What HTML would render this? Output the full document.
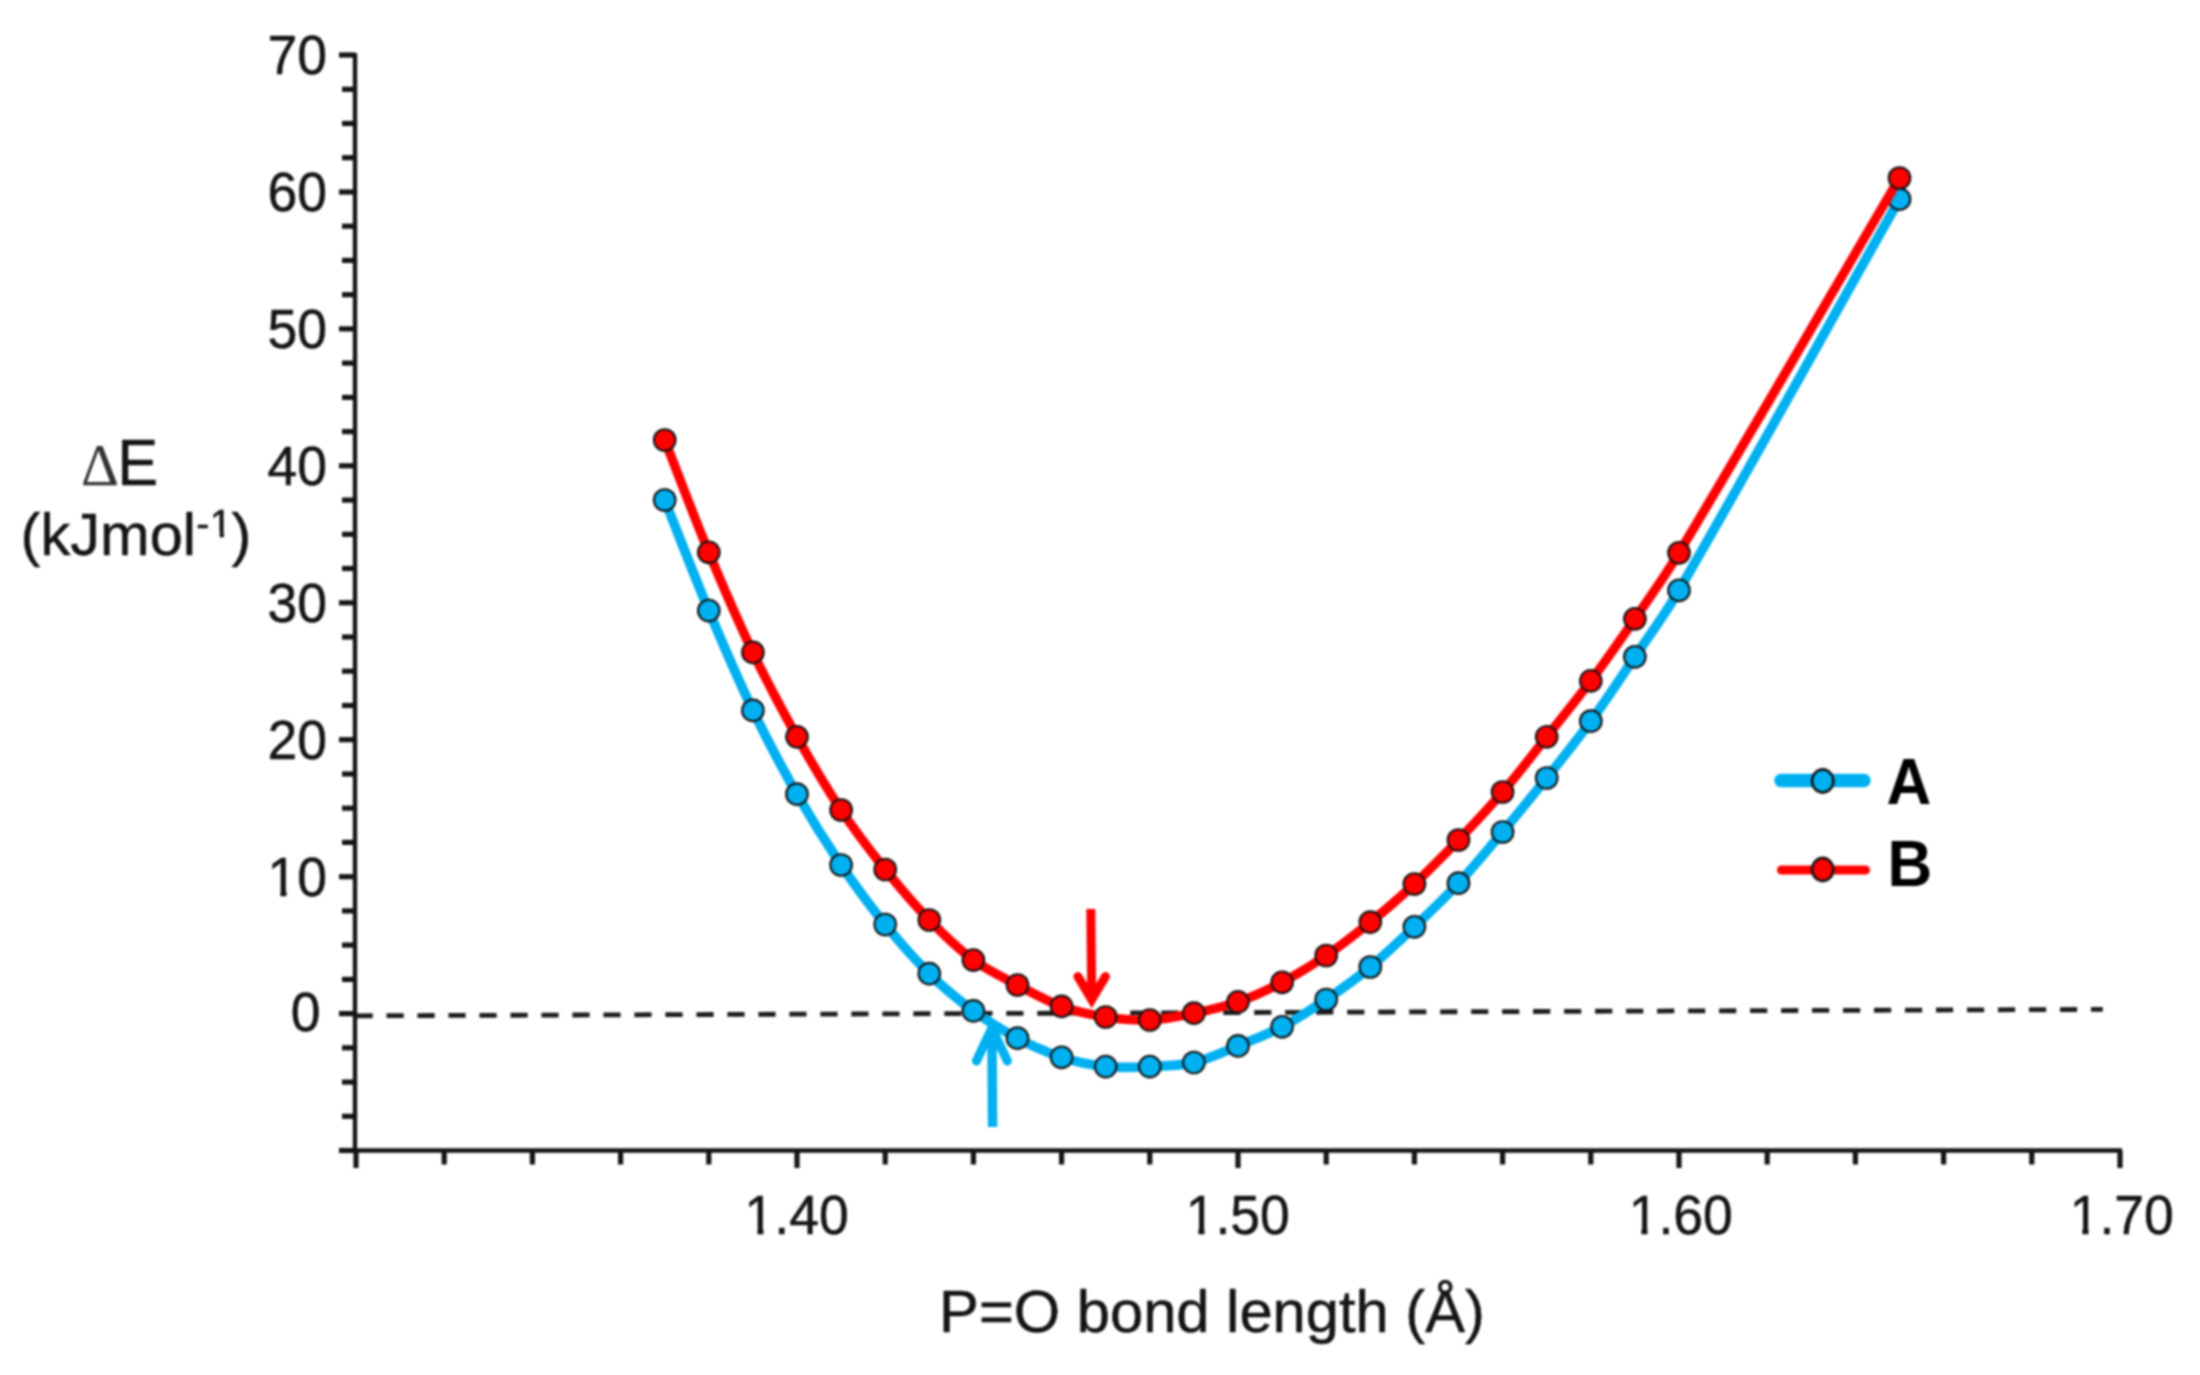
<!DOCTYPE html>
<html lang="en"><head><meta charset="utf-8"><title>P=O bond length scan</title>
<style>html,body{margin:0;padding:0;background:#fff;}body{width:2200px;height:1375px;overflow:hidden;}svg{display:block;}#chart{filter:blur(1px);}text{font-family:"Liberation Sans",Arial,sans-serif;fill:#141414;stroke:#141414;stroke-width:0.5px;}.tk{font-size:53.5px;}.ti{font-size:61px;}.lg{font-size:62px;font-weight:bold;fill:#000;stroke:none;}</style></head><body>
<svg width="2200" height="1375" viewBox="0 0 2200 1375">
<rect width="2200" height="1375" fill="#fff"/>
<g id="chart">
<line x1="355.5" y1="1015.8" x2="2102.8" y2="1009.4" stroke="#1c1c1c" stroke-width="4.8" stroke-dasharray="17.2 13.79"/>
<g stroke="#141414" stroke-width="4.4" fill="none">
<line x1="355.0" y1="53" x2="355.0" y2="1152.5"/>
<line x1="353.0" y1="1150.5" x2="2122" y2="1150.5"/>
</g>
<g stroke="#141414" stroke-width="5.2" fill="none">
<line x1="339.0" y1="1150.5" x2="355.0" y2="1150.5"/>
<line x1="342.0" y1="1116.3" x2="355.0" y2="1116.3"/>
<line x1="342.0" y1="1082.1" x2="355.0" y2="1082.1"/>
<line x1="342.0" y1="1047.8" x2="355.0" y2="1047.8"/>
<line x1="339.0" y1="1013.6" x2="355.0" y2="1013.6"/>
<line x1="342.0" y1="979.4" x2="355.0" y2="979.4"/>
<line x1="342.0" y1="945.1" x2="355.0" y2="945.1"/>
<line x1="342.0" y1="910.9" x2="355.0" y2="910.9"/>
<line x1="339.0" y1="876.7" x2="355.0" y2="876.7"/>
<line x1="342.0" y1="842.4" x2="355.0" y2="842.4"/>
<line x1="342.0" y1="808.2" x2="355.0" y2="808.2"/>
<line x1="342.0" y1="774.0" x2="355.0" y2="774.0"/>
<line x1="339.0" y1="739.7" x2="355.0" y2="739.7"/>
<line x1="342.0" y1="705.5" x2="355.0" y2="705.5"/>
<line x1="342.0" y1="671.2" x2="355.0" y2="671.2"/>
<line x1="342.0" y1="637.0" x2="355.0" y2="637.0"/>
<line x1="339.0" y1="602.8" x2="355.0" y2="602.8"/>
<line x1="342.0" y1="568.5" x2="355.0" y2="568.5"/>
<line x1="342.0" y1="534.3" x2="355.0" y2="534.3"/>
<line x1="342.0" y1="500.1" x2="355.0" y2="500.1"/>
<line x1="339.0" y1="465.8" x2="355.0" y2="465.8"/>
<line x1="342.0" y1="431.6" x2="355.0" y2="431.6"/>
<line x1="342.0" y1="397.4" x2="355.0" y2="397.4"/>
<line x1="342.0" y1="363.1" x2="355.0" y2="363.1"/>
<line x1="339.0" y1="328.9" x2="355.0" y2="328.9"/>
<line x1="342.0" y1="294.7" x2="355.0" y2="294.7"/>
<line x1="342.0" y1="260.4" x2="355.0" y2="260.4"/>
<line x1="342.0" y1="226.2" x2="355.0" y2="226.2"/>
<line x1="339.0" y1="192.0" x2="355.0" y2="192.0"/>
<line x1="342.0" y1="157.7" x2="355.0" y2="157.7"/>
<line x1="342.0" y1="123.5" x2="355.0" y2="123.5"/>
<line x1="342.0" y1="89.3" x2="355.0" y2="89.3"/>
<line x1="339.0" y1="55.0" x2="355.0" y2="55.0"/>
<line x1="356.0" y1="1150.5" x2="356.0" y2="1168.0"/>
<line x1="444.2" y1="1150.5" x2="444.2" y2="1164.5"/>
<line x1="532.4" y1="1150.5" x2="532.4" y2="1164.5"/>
<line x1="620.6" y1="1150.5" x2="620.6" y2="1164.5"/>
<line x1="708.8" y1="1150.5" x2="708.8" y2="1164.5"/>
<line x1="797.0" y1="1150.5" x2="797.0" y2="1168.0"/>
<line x1="885.2" y1="1150.5" x2="885.2" y2="1164.5"/>
<line x1="973.4" y1="1150.5" x2="973.4" y2="1164.5"/>
<line x1="1061.6" y1="1150.5" x2="1061.6" y2="1164.5"/>
<line x1="1149.8" y1="1150.5" x2="1149.8" y2="1164.5"/>
<line x1="1238.0" y1="1150.5" x2="1238.0" y2="1168.0"/>
<line x1="1326.2" y1="1150.5" x2="1326.2" y2="1164.5"/>
<line x1="1414.4" y1="1150.5" x2="1414.4" y2="1164.5"/>
<line x1="1502.6" y1="1150.5" x2="1502.6" y2="1164.5"/>
<line x1="1590.8" y1="1150.5" x2="1590.8" y2="1164.5"/>
<line x1="1679.0" y1="1150.5" x2="1679.0" y2="1168.0"/>
<line x1="1767.2" y1="1150.5" x2="1767.2" y2="1164.5"/>
<line x1="1855.4" y1="1150.5" x2="1855.4" y2="1164.5"/>
<line x1="1943.6" y1="1150.5" x2="1943.6" y2="1164.5"/>
<line x1="2031.8" y1="1150.5" x2="2031.8" y2="1164.5"/>
<line x1="2120.0" y1="1150.5" x2="2120.0" y2="1168.0"/>
</g>
<text class="tk" transform="translate(327.0 895.9) scale(1 1.040)" text-anchor="end">10</text>
<text class="tk" transform="translate(327.0 758.9) scale(1 1.040)" text-anchor="end">20</text>
<text class="tk" transform="translate(327.0 622.0) scale(1 1.040)" text-anchor="end">30</text>
<text class="tk" transform="translate(327.0 485.0) scale(1 1.040)" text-anchor="end">40</text>
<text class="tk" transform="translate(327.0 348.1) scale(1 1.040)" text-anchor="end">50</text>
<text class="tk" transform="translate(327.0 211.2) scale(1 1.040)" text-anchor="end">60</text>
<text class="tk" transform="translate(327.0 74.2) scale(1 1.040)" text-anchor="end">70</text>
<text class="tk" transform="translate(320.5 1031.2) scale(1 1.040)" text-anchor="end">0</text>
<text class="tk" transform="translate(796.6 1233.8) scale(1 1.040)" text-anchor="middle">1.40</text>
<text class="tk" transform="translate(1237.8 1233.8) scale(1 1.040)" text-anchor="middle">1.50</text>
<text class="tk" transform="translate(1680.8 1233.8) scale(1 1.040)" text-anchor="middle">1.60</text>
<text class="tk" transform="translate(2121.7 1233.8) scale(1 1.040)" text-anchor="middle">1.70</text>
<text class="ti" y="484.6"><tspan x="81" style="font-family:'Liberation Serif',serif;font-size:59px;fill:#333;stroke:none">Δ</tspan><tspan x="117.3" style="font-size:65.3px" textLength="40.9" lengthAdjust="spacingAndGlyphs">E</tspan></text>
<text class="ti" style="font-size:59.6px"><tspan x="20.6" y="555.1">(kJmol</tspan><tspan style="font-size:39px" x="196.2" y="537">-</tspan><tspan style="font-size:39px" x="210.0" y="537">1</tspan><tspan x="231.5" y="555.1">)</tspan></text>
<text class="ti" style="font-size:59.7px" x="1212" y="1332" text-anchor="middle">P=O bond length (Å)</text>
<rect x="746.0" y="1228.0" width="11.4" height="9.0" fill="#fff"/>
<rect x="763.5" y="1228.0" width="10.5" height="9.0" fill="#fff"/>
<rect x="1187.0" y="1228.0" width="11.4" height="9.0" fill="#fff"/>
<rect x="1204.5" y="1228.0" width="10.5" height="9.0" fill="#fff"/>
<rect x="1630.0" y="1228.0" width="11.4" height="9.0" fill="#fff"/>
<rect x="1647.5" y="1228.0" width="10.5" height="9.0" fill="#fff"/>
<rect x="2071.0" y="1228.0" width="11.4" height="9.0" fill="#fff"/>
<rect x="2088.5" y="1228.0" width="10.5" height="9.0" fill="#fff"/>
<rect x="269.0" y="890.0" width="11.4" height="9.0" fill="#fff"/>
<rect x="286.5" y="890.0" width="10.5" height="9.0" fill="#fff"/>
<rect x="211.0" y="531.6" width="8.6" height="8.4" fill="#fff"/>
<rect x="224.0" y="531.6" width="8.0" height="8.4" fill="#fff"/>
<path d="M664.7 500.0 C679.4 536.9 693.5 574.0 708.8 610.6 C722.9 644.1 737.2 677.6 752.9 710.4 C766.6 738.9 781.4 766.8 797.0 794.2 C810.8 818.4 825.5 842.0 841.1 865.0 C854.9 885.4 869.6 905.3 885.2 924.5 C899.1 941.6 913.6 958.3 929.3 973.7 C943.0 987.2 957.9 999.5 973.4 1010.9 C987.4 1021.1 1002.2 1030.2 1017.5 1038.2 C1031.7 1045.7 1046.4 1052.4 1061.6 1057.3 C1075.9 1061.9 1090.8 1065.0 1105.7 1066.6 C1120.3 1068.1 1135.1 1067.3 1149.8 1066.6 C1164.5 1065.9 1179.5 1065.9 1193.9 1062.5 C1209.2 1058.9 1223.4 1051.8 1238.0 1045.9 C1252.8 1039.9 1267.9 1034.3 1282.1 1026.8 C1297.4 1018.8 1311.9 1009.2 1326.2 999.5 C1341.3 989.3 1356.2 978.6 1370.3 967.0 C1385.6 954.3 1400.0 940.5 1414.4 926.8 C1429.4 912.6 1444.4 898.3 1458.5 883.2 C1473.8 866.7 1488.1 849.3 1502.6 832.0 C1517.5 814.2 1532.2 796.2 1546.7 778.0 C1561.6 759.2 1576.7 740.6 1590.8 721.2 C1606.1 700.2 1620.4 678.4 1634.9 656.8 C1649.8 634.7 1665.7 613.3 1679.0 590.3 C1753.9 460.7 1826.0 329.6 1899.5 199.2" fill="none" stroke="#00b0f0" stroke-width="9.6" stroke-linejoin="round" stroke-linecap="round"/>
<g fill="#00b0f0" stroke="#141414" stroke-width="2.1">
<circle cx="664.7" cy="500.0" r="10.8"/>
<circle cx="708.8" cy="610.6" r="10.8"/>
<circle cx="752.9" cy="710.4" r="10.8"/>
<circle cx="797.0" cy="794.2" r="10.8"/>
<circle cx="841.1" cy="865.0" r="10.8"/>
<circle cx="885.2" cy="924.5" r="10.8"/>
<circle cx="929.3" cy="973.7" r="10.8"/>
<circle cx="973.4" cy="1010.9" r="10.8"/>
<circle cx="1017.5" cy="1038.2" r="10.8"/>
<circle cx="1061.6" cy="1057.3" r="10.8"/>
<circle cx="1105.7" cy="1066.6" r="10.8"/>
<circle cx="1149.8" cy="1066.6" r="10.8"/>
<circle cx="1193.9" cy="1062.5" r="10.8"/>
<circle cx="1238.0" cy="1045.9" r="10.8"/>
<circle cx="1282.1" cy="1026.8" r="10.8"/>
<circle cx="1326.2" cy="999.5" r="10.8"/>
<circle cx="1370.3" cy="967.0" r="10.8"/>
<circle cx="1414.4" cy="926.8" r="10.8"/>
<circle cx="1458.5" cy="883.2" r="10.8"/>
<circle cx="1502.6" cy="832.0" r="10.8"/>
<circle cx="1546.7" cy="778.0" r="10.8"/>
<circle cx="1590.8" cy="721.2" r="10.8"/>
<circle cx="1634.9" cy="656.8" r="10.8"/>
<circle cx="1679.0" cy="590.3" r="10.8"/>
<circle cx="1899.5" cy="199.2" r="10.8"/>
</g>
<path d="M664.7 440.0 C679.4 477.4 693.4 515.2 708.8 552.3 C722.8 586.0 737.2 619.5 752.9 652.4 C766.6 681.0 781.5 709.1 797.0 736.8 C810.9 761.7 825.3 786.3 841.1 810.0 C854.8 830.6 869.8 850.2 885.2 869.5 C899.2 886.9 913.7 904.0 929.3 920.0 C943.2 934.2 957.4 948.3 973.4 960.1 C987.0 970.1 1002.6 977.2 1017.5 985.0 C1032.0 992.6 1046.2 1000.8 1061.6 1006.4 C1075.8 1011.6 1090.8 1014.7 1105.7 1017.0 C1120.3 1019.2 1135.1 1020.6 1149.8 1020.0 C1164.7 1019.4 1179.3 1016.2 1193.9 1013.2 C1208.8 1010.1 1223.7 1006.8 1238.0 1001.8 C1253.2 996.5 1267.9 989.8 1282.1 982.3 C1297.3 974.3 1312.0 965.2 1326.2 955.5 C1341.4 945.1 1356.0 933.8 1370.3 922.2 C1385.4 910.0 1400.2 897.3 1414.4 884.0 C1429.6 869.8 1444.1 855.0 1458.5 840.0 C1473.5 824.3 1488.5 808.5 1502.6 792.0 C1517.9 774.1 1532.1 755.3 1546.7 736.8 C1561.5 718.2 1576.6 699.8 1590.8 680.8 C1606.0 660.5 1620.5 639.7 1634.9 618.8 C1649.9 597.0 1665.4 575.5 1679.0 552.8 C1753.6 428.5 1826.0 302.9 1899.5 178.0" fill="none" stroke="#ff0000" stroke-width="9.3" stroke-linejoin="round" stroke-linecap="round"/>
<g fill="#ff0000" stroke="#141414" stroke-width="2.1">
<circle cx="664.7" cy="440.0" r="10.8"/>
<circle cx="708.8" cy="552.3" r="10.8"/>
<circle cx="752.9" cy="652.4" r="10.8"/>
<circle cx="797.0" cy="736.8" r="10.8"/>
<circle cx="841.1" cy="810.0" r="10.8"/>
<circle cx="885.2" cy="869.5" r="10.8"/>
<circle cx="929.3" cy="920.0" r="10.8"/>
<circle cx="973.4" cy="960.1" r="10.8"/>
<circle cx="1017.5" cy="985.0" r="10.8"/>
<circle cx="1061.6" cy="1006.4" r="10.8"/>
<circle cx="1105.7" cy="1017.0" r="10.8"/>
<circle cx="1149.8" cy="1020.0" r="10.8"/>
<circle cx="1193.9" cy="1013.2" r="10.8"/>
<circle cx="1238.0" cy="1001.8" r="10.8"/>
<circle cx="1282.1" cy="982.3" r="10.8"/>
<circle cx="1326.2" cy="955.5" r="10.8"/>
<circle cx="1370.3" cy="922.2" r="10.8"/>
<circle cx="1414.4" cy="884.0" r="10.8"/>
<circle cx="1458.5" cy="840.0" r="10.8"/>
<circle cx="1502.6" cy="792.0" r="10.8"/>
<circle cx="1546.7" cy="736.8" r="10.8"/>
<circle cx="1590.8" cy="680.8" r="10.8"/>
<circle cx="1634.9" cy="618.8" r="10.8"/>
<circle cx="1679.0" cy="552.8" r="10.8"/>
<circle cx="1899.5" cy="178.0" r="10.8"/>
</g>
<g fill="none" stroke="#ff0000" stroke-width="9" stroke-linejoin="miter" stroke-miterlimit="10">
<path d="M1090.8 909 L1091.8 1001"/><path stroke-linecap="round" d="M1077.9 976.5 L1091.7 999.5 L1105.5 976.5"/></g>
<g fill="none" stroke="#00b0f0" stroke-width="9.5" stroke-linejoin="miter" stroke-miterlimit="10">
<path d="M992.6 1127 L991.9 1030"/><path stroke-width="9" stroke-linecap="round" d="M976.4 1061 L991.9 1028 L1007.4 1061"/></g>
<line x1="1781" y1="780.5" x2="1864" y2="780.5" stroke="#00b0f0" stroke-width="13.5" stroke-linecap="round"/>
<ellipse cx="1822.7" cy="781" rx="10.6" ry="11.6" fill="#00b0f0" stroke="#141414" stroke-width="2.6"/>
<line x1="1781.5" y1="870" x2="1865.5" y2="870" stroke="#ff0000" stroke-width="9" stroke-linecap="round"/>
<ellipse cx="1822.7" cy="869.5" rx="10.6" ry="11.6" fill="#ff0000" stroke="#141414" stroke-width="2.6"/>
<text class="lg" transform="translate(1886.5 803.6) scale(1 1.050)">A</text>
<text class="lg" transform="translate(1887.5 885.6) scale(1 1.050)">B</text>
</g>
</svg></body></html>
